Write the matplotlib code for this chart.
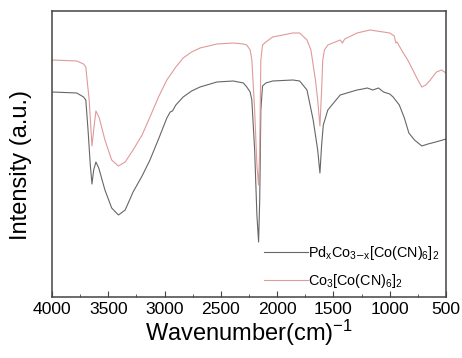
import numpy as np
import matplotlib
matplotlib.use('Agg')
from matplotlib import pyplot as plt
from matplotlib.ticker import MultipleLocator

# wavenumber (cm-1) and relative intensity
wn_co = [4000, 3780, 3720, 3700, 3670, 3645, 3625, 3610, 3580, 3530, 3470, 3410, 3350,
         3280, 3200, 3130, 3050, 2980, 2900, 2835, 2760, 2685, 2535, 2390, 2300, 2270,
         2240, 2225, 2200, 2180, 2165, 2155, 2145, 2130, 2100, 2040, 1860, 1800, 1735,
         1700, 1680, 1660, 1640, 1620, 1605, 1595, 1580, 1550, 1440, 1420, 1400, 1290,
         1175, 1000, 960, 945, 935, 885, 840, 795, 750, 715, 680, 640, 585, 540, 500]
px_co = [60, 61, 64, 67, 100, 146, 125, 111, 118, 140, 160, 166, 162,
         150, 135, 117, 96, 80, 67, 58, 52, 48, 44, 43, 44, 45,
         50, 60, 110, 165, 185, 150, 60, 45, 42, 37, 33, 33, 40,
         50, 65, 80, 100, 126, 90, 60, 50, 45, 40, 43, 39, 33,
         30, 33, 36, 43, 42, 52, 60, 70, 80, 87, 85, 80, 72, 70, 73]

wn_pd = [4000, 3780, 3720, 3700, 3680, 3660, 3645, 3630, 3610, 3585, 3530, 3470, 3410,
         3350, 3280, 3200, 3130, 3050, 2980, 2950, 2930, 2900, 2835, 2760, 2685, 2535,
         2390, 2300, 2270, 2240, 2225, 2200, 2180, 2165, 2155, 2145, 2130, 2100, 2040,
         1860, 1800, 1735, 1680, 1640, 1620, 1605, 1590, 1550, 1440, 1350, 1290, 1240,
         1200, 1150, 1100, 1055, 1000, 970, 915, 870, 830, 780, 715, 660, 625, 560, 500]
px_pd = [92, 93, 97, 100, 130, 165, 184, 170, 162, 168, 190, 208, 215,
         210, 192, 176, 160, 138, 118, 112, 111, 105, 97, 91, 87, 82,
         81, 83, 87, 92, 100, 150, 215, 242, 200, 110, 86, 83, 81,
         80, 81, 90, 120, 150, 173, 145, 125, 110, 95, 92, 90, 89,
         88, 90, 88, 92, 94, 97, 105, 118, 133, 140, 146, 144, 143, 141, 139]

i_co = [297 - p for p in px_co]
i_pd = [297 - p for p in px_pd]

plt.rcParams['font.family'] = ['Liberation Sans', 'DejaVu Sans']
plt.rcParams['mathtext.default'] = 'regular'

fig = plt.figure(figsize=(4.62, 3.58), dpi=100)
ax = fig.add_axes([0.1126, 0.1704, 0.8528, 0.7989])

ax.plot(wn_pd, i_pd, color='#666666', lw=0.8, label=r'Pd$_x$Co$_{3\mathrm{-}x}$[Co(CN)$_6$]$_2$')
ax.plot(wn_co, i_co, color='#e09a9a', lw=0.8, label=r'Co$_3$[Co(CN)$_6$]$_2$')

ax.set_xlim(4000, 500)
ax.set_ylim(0, 286)
ax.xaxis.set_major_locator(MultipleLocator(500))
ax.xaxis.set_minor_locator(MultipleLocator(250))
ax.tick_params(axis='x', which='both', direction='in', labelsize=12.6, color='#444444')
ax.tick_params(axis='x', which='major', length=4)
ax.tick_params(axis='x', which='minor', length=2.5)
ax.set_yticks([])
for s in ax.spines.values():
    s.set_color('#444444')
    s.set_linewidth(1.1)

ax.set_xlabel('Wavenumber(cm)$^{-1}$', fontsize=17, labelpad=1)
ax.set_ylabel('Intensity (a.u.)', fontsize=17)
ax.yaxis.set_label_coords(-0.05, 0.46)

ax.legend(loc='lower right', bbox_to_anchor=(1.0, 0.0), frameon=False, fontsize=10.4,
          handlelength=3.0, handletextpad=0.0, labelspacing=0.65, borderaxespad=0.3,
          borderpad=0.2)

fig.savefig('out.png', dpi=100)
